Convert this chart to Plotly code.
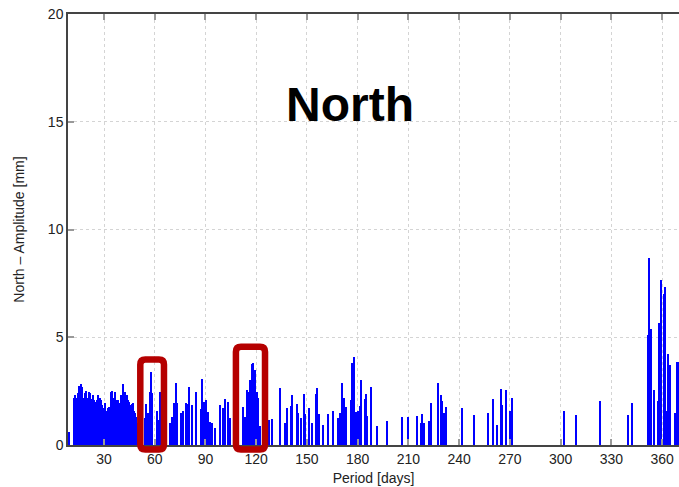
import plotly.graph_objects as go

# ---- data ----
periods = [
    9.3,
    12.2, 12.8, 13.4, 14.0, 14.6, 15.2, 15.8, 16.4, 17.0, 17.6, 18.2, 18.8, 19.4, 19.9,
    20.5, 21.1, 21.7, 22.3, 22.9, 23.5, 24.1, 24.7, 25.3, 25.9, 26.4, 27.0, 27.6, 28.2,
    28.8, 29.4, 30.0, 30.6, 31.2, 31.8, 32.4, 32.9, 33.5, 34.1, 34.7, 35.3, 35.9, 36.5,
    37.1, 37.7, 38.3, 38.9, 39.5, 40.0, 40.6, 41.2, 41.8, 42.4, 43.0, 43.6, 44.2, 44.8,
    45.4, 46.0, 46.5, 47.1, 47.7, 48.3, 48.9, 49.5,
    54.3, 54.8, 56.0, 57.2, 57.8, 58.4, 61.3, 61.9, 63.1,
    69.0, 70.2, 70.8, 71.4, 72.6, 73.2,
    75.5, 76.7, 78.5, 79.7, 80.2, 82.0, 84.4, 87.3, 87.9, 89.1, 90.3, 91.5, 92.7, 93.9,
    95.6, 98.6, 100.4, 101.5, 103.3, 104.5,
    112.2, 113.4, 114.5, 115.7, 116.3, 117.5, 118.1, 119.3, 120.5, 121.1, 122.2,
    127.6, 129.3, 134.1, 137.0, 138.2, 140.6, 141.2, 144.1, 144.7, 146.5, 148.3, 148.9,
    151.2, 153.0, 155.4, 156.0, 157.1, 159.5, 162.4, 165.4, 168.4, 169.5, 170.7, 171.9,
    173.1, 176.0, 176.6, 177.8, 179.0, 180.2, 181.4, 182.0, 184.4, 185.0, 185.6, 188.0,
    191.4, 197.4, 206.2, 209.8, 215.1, 217.5, 218.0, 219.2, 222.2, 223.4, 227.5, 229.3,
    229.9, 231.1, 232.2, 241.7, 248.8, 257.1, 260.0, 262.4, 264.8, 265.4, 267.7, 270.1,
    271.3, 302.0, 309.1, 323.3, 339.9, 342.2,
    351.7, 352.3, 352.9, 353.5, 355.2, 357.6, 358.2, 359.4, 361.1, 361.7, 362.9, 363.5,
    364.7, 367.8, 368.9, 369.5,
]
amplitudes = [
    0.6,
    2.2, 2.3, 2.2, 2.1, 2.4, 2.75, 2.45, 2.85, 2.7, 2.2, 2.15, 2.4, 2.5, 2.2,
    2.0, 2.45, 2.4, 2.15, 1.95, 2.3, 2.1, 2.0, 1.85, 2.1, 2.3, 2.05, 2.2, 2.1,
    1.85, 1.55, 1.7, 1.95, 1.6, 1.45, 1.7, 1.75, 1.4, 2.45, 2.5, 2.2, 1.95, 2.45,
    2.1, 1.75, 2.1, 1.75, 1.95, 2.3, 2.1, 2.85, 2.45, 2.45, 2.25, 2.3, 2.1, 2.0,
    1.8, 1.85, 1.9, 1.95, 1.6, 1.5, 1.3, 1.0,
    1.25, 1.9, 1.5, 2.45, 3.4, 2.4, 1.6, 1.15, 2.45,
    1.0, 1.3, 1.25, 1.95, 2.9, 1.95,
    1.5, 1.6, 1.95, 1.9, 2.7, 1.85, 2.45, 1.65, 3.05, 2.0, 2.1, 1.55, 1.05, 1.0,
    0.8, 1.85, 1.7, 2.15, 2.0, 1.25,
    1.75, 1.3, 2.55, 2.45, 3.0, 3.75, 3.8, 3.5, 2.45, 2.2, 0.9,
    1.15, 1.2, 2.65, 1.0, 1.7, 1.8, 2.3, 1.9, 1.5, 1.25, 2.35, 1.45,
    1.7, 1.0, 2.35, 2.65, 1.45, 0.95, 1.45, 1.6, 1.25, 1.5, 2.9, 2.2,
    1.75, 2.1, 3.8, 4.1, 1.55, 1.6, 1.8, 3.0, 2.15, 2.35, 1.35, 2.7,
    0.9, 1.1, 1.3, 1.3, 1.35, 1.0, 1.45, 1.0, 1.1, 1.95, 2.9, 2.3,
    2.05, 1.5, 1.75, 1.7, 1.4, 1.5, 2.15, 0.95, 2.6, 1.85, 2.55, 1.6,
    2.2, 1.6, 1.4, 2.05, 1.4, 1.95,
    5.1, 8.7, 4.6, 5.4, 2.55, 2.05, 5.65, 7.65, 7.0, 7.35, 1.6, 4.2,
    3.7, 1.5, 3.85, 3.85,
]
x_tick_values = [30, 60, 90, 120, 150, 180, 210, 240, 270, 300, 330, 360]
y_tick_values = [0, 5, 10, 15, 20]
x_range = [8.7, 370.0]
y_range = [0, 20]

# highlighted period windows (days) and the amplitude reached by each box top
highlight_windows = [(51.45, 65.45), (108.0, 125.2)]
highlight_tops = [3.97, 4.56]
highlight_bottom = -0.21

chart_title = "North"
x_title = "Period [days]"
y_title = "North \u2013 Amplitude [mm]"

FONT = "Liberation Sans, Arial, Helvetica, sans-serif"

fig = go.Figure()
fig.add_trace(go.Bar(
    x=periods, y=amplitudes, width=0.9,
    marker=dict(color="#0000ff", line=dict(width=0)),
    showlegend=False,
))

# rounded-rectangle highlight boxes (paper coordinates derived from data ranges)
W, H = 611.0, 431.0
def to_px(d):
    return (d - x_range[0]) / (x_range[1] - x_range[0])
def to_py(a):
    return (a - y_range[0]) / (y_range[1] - y_range[0])

shapes = []
r = 5.0
for (d0, d1), top in zip(highlight_windows, highlight_tops):
    x0, x1 = to_px(d0), to_px(d1)
    y0, y1 = to_py(highlight_bottom), to_py(top)
    rx, ry = r / W, r / H
    path = (f"M {x0+rx} {y1} L {x1-rx} {y1} Q {x1} {y1} {x1} {y1-ry} "
            f"L {x1} {y0+ry} Q {x1} {y0} {x1-rx} {y0} "
            f"L {x0+rx} {y0} Q {x0} {y0} {x0} {y0+ry} "
            f"L {x0} {y1-ry} Q {x0} {y1} {x0+rx} {y1} Z")
    shapes.append(dict(type="path", path=path, xref="paper", yref="paper",
                       line=dict(color="#b50000", width=6.5), layer="above"))

fig.update_layout(
    width=679, height=487,
    margin=dict(l=68, r=0, t=14, b=42),
    paper_bgcolor="white", plot_bgcolor="white",
    font=dict(family=FONT, size=13, color="#222222"),
    bargap=0,
    shapes=shapes,
    annotations=[dict(
        text=f"<b>{chart_title}</b>", xref="paper", yref="paper",
        x=0.4615, y=0.857, showarrow=False,
        font=dict(family=FONT, size=48, color="black"),
    )],
    xaxis=dict(
        range=x_range, tickmode="array", tickvals=x_tick_values,
        showgrid=True, gridcolor="#d4d4d4", griddash="dot", gridwidth=1,
        showline=True, linecolor="#444444", linewidth=1.5, mirror="ticks",
        ticks="inside", ticklen=6, tickwidth=2, tickcolor="#999999",
        tickfont=dict(size=14, color="#222222"),
        title=dict(text=x_title, font=dict(size=14, color="#222222"), standoff=8),
        zeroline=False, automargin=False,
    ),
    yaxis=dict(
        range=y_range, tickmode="array", tickvals=y_tick_values,
        showgrid=True, gridcolor="#d4d4d4", griddash="dot", gridwidth=1,
        showline=True, linecolor="#444444", linewidth=1.5, mirror=False,
        ticks="inside", ticklen=6, tickwidth=2, tickcolor="#999999",
        tickfont=dict(size=14, color="#222222"),
        title=dict(text=y_title, font=dict(size=14, color="#222222"), standoff=20),
        zeroline=False, automargin=False,
    ),
)

fig.write_html(
    "out.html",
    config={"responsive": False, "displayModeBar": False},
    post_script="document.body.style.margin='0';document.body.style.overflow='hidden';",
)
